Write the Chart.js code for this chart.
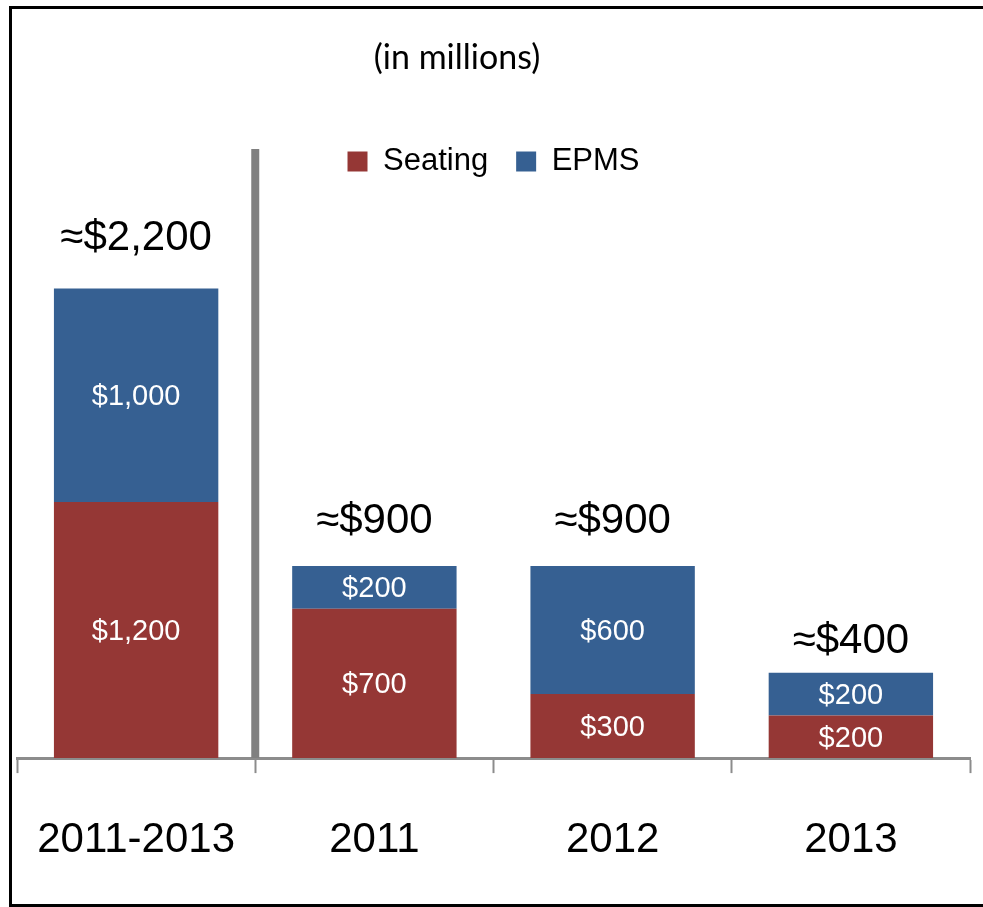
<!DOCTYPE html>
<html>
<head>
<meta charset="utf-8">
<script src="https://cdn.jsdelivr.net/npm/chart.js@4/dist/chart.umd.min.js"></script>
<style>
  body { margin: 0; background: #fff; overflow: hidden; }
  #wrap { width: 983px; height: 907px; position: relative; }
</style>
</head>
<body>
<div id="wrap"><canvas id="chartCanvas"></canvas></div>
<script>
let categories = ['2011-2013', '2011', '2012', '2013'];
let seatingValues = [1200, 700, 300, 200];
let epmsValues = [1000, 200, 600, 200];

// how far above each stack the total sits (px)
let totalLift = [50, 45, 45, 31];

function money(v) {
  return '$' + v.toLocaleString('en-US');
}

let barLabels = {
  id: 'barLabels',
  beforeDatasetsDraw(chart) {
    let ctx = chart.ctx;
    let x = chart.scales.x;
    let sepX = (x.getPixelForValue(0) + x.getPixelForValue(1)) / 2;
    ctx.save();
    ctx.strokeStyle = '#808080';
    ctx.lineWidth = 8;
    ctx.beginPath();
    ctx.moveTo(sepX, 149);
    ctx.lineTo(sepX, chart.chartArea.bottom);
    ctx.stroke();
    ctx.restore();
  },
  afterDatasetsDraw(chart) {
    let ctx = chart.ctx;
    ctx.save();
    ctx.textAlign = 'center';
    ctx.textBaseline = 'middle';
    ctx.fillStyle = '#ffffff';
    ctx.font = '29px "Liberation Sans", Arial, sans-serif';
    chart.data.datasets.forEach((ds, di) => {
      let meta = chart.getDatasetMeta(di);
      meta.data.forEach((bar, i) => {
        let p = bar.getProps(['x', 'y', 'base'], true);
        ctx.fillText(money(ds.data[i]), p.x, (p.y + p.base) / 2 + 2);
      });
    });
    ctx.fillStyle = '#000000';
    ctx.font = '42px "Liberation Sans", Arial, sans-serif';
    let top = chart.getDatasetMeta(1);
    top.data.forEach((bar, i) => {
      let p = bar.getProps(['x', 'y'], true);
      let total = seatingValues[i] + epmsValues[i];
      ctx.fillText('\u2248' + money(total), p.x, p.y - totalLift[i]);
    });
    ctx.restore();
  },
  afterDraw(chart) {
    let ctx = chart.ctx;
    ctx.save();
    // chart title, a bit left of centre like the original
    ctx.fillStyle = '#000000';
    ctx.textAlign = 'center';
    ctx.textBaseline = 'middle';
    ctx.font = '34px Lato, "Open Sans", sans-serif';
    ctx.fillText('(in millions)', 457, 58);
    // frame: top, left and bottom edges only
    ctx.strokeStyle = '#000000';
    ctx.lineWidth = 3;
    ctx.beginPath();
    ctx.moveTo(990, 7.5);
    ctx.lineTo(10.5, 7.5);
    ctx.lineTo(10.5, 905.5);
    ctx.lineTo(990, 905.5);
    ctx.stroke();
    ctx.restore();
  }
};

let ctx = document.getElementById('chartCanvas').getContext('2d');
let chartInstance = new Chart(ctx, {
  type: 'bar',
  data: {
    labels: categories,
    datasets: [{
      label: 'Seating',
      data: seatingValues,
      backgroundColor: '#953735'
    },
    {
      label: 'EPMS',
      data: epmsValues,
      backgroundColor: '#366092'
    }]
  },
  options: {
    responsive: true,
    maintainAspectRatio: false,
    animation: false,
    categoryPercentage: 0.69,
    barPercentage: 1,
    layout: {
      padding: { left: 17, right: 13, top: 118, bottom: 0 }
    },
    plugins: {
      title: { display: false },
      legend: {
        display: true,
        labels: {
          color: '#000',
          boxWidth: 20,
          boxHeight: 20,
          padding: 28,
          font: { family: '"Liberation Sans", Arial, sans-serif', size: 31 }
        }
      },
      tooltip: { enabled: false }
    },
    scales: {
      x: {
        stacked: true,
        grid: {
          display: true,
          drawOnChartArea: false,
          drawTicks: true,
          tickLength: 15,
          tickColor: '#8c8c8c',
          tickWidth: 2,
          offset: true
        },
        border: { display: true, color: '#8c8c8c', width: 3 },
        ticks: {
          color: '#000',
          padding: 5,
          font: { family: '"Liberation Sans", Arial, sans-serif', size: 42, lineHeight: 2.95 }
        }
      },
      y: {
        stacked: true,
        display: false,
        min: 0,
        max: 2676
      }
    }
  },
  plugins: [barLabels]
});
</script>
</body>
</html>
